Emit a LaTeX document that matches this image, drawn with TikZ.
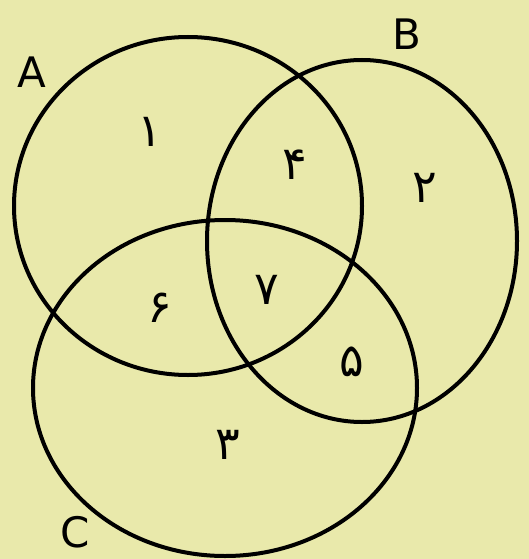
\documentclass[tikz,border=0pt]{standalone}
\usepackage{fontspec}
\setmainfont{DejaVu Sans}
\newfontfamily\arabicfont[Script=Arabic]{DejaVu Sans}
\definecolor{bgyellow}{RGB}{233,233,171}
\begin{document}
\begin{tikzpicture}[x=1pt,y=-1pt,
  ring/.style={draw=black,line width=4pt},
  setlabel/.style={font=\fontsize{42}{42}\selectfont,inner sep=0pt},
  num/.style={font=\arabicfont\fontsize{46}{46}\selectfont,inner sep=0pt}]
\fill[bgyellow] (0,0) rectangle (529,559);
\useasboundingbox (0,0) rectangle (529,559);
\draw[ring] (188,206) ellipse [x radius=174, y radius=169];
\draw[ring] (362,241) ellipse [x radius=155, y radius=181];
\draw[ring] (225,388) ellipse [x radius=192, y radius=168];
\node[setlabel] (la) at (32,72) {A};
\node[setlabel] (lb) at (407,34) {B};
\node[setlabel] (lc) at (75,532) {C};
\node[num] (n1) at (150,132) {۱};
\node[num] (n4) at (295,165) {۴};
\node[num] (n2) at (425,188) {۲};
\node[num] (n6) at (160,308) {۶};
\node[num] (n7) at (267,290) {۷};
\node[num] (n5) at (352,362) {۵};
\node[num] (n3) at (228,445) {۳};
\end{tikzpicture}
\end{document}
